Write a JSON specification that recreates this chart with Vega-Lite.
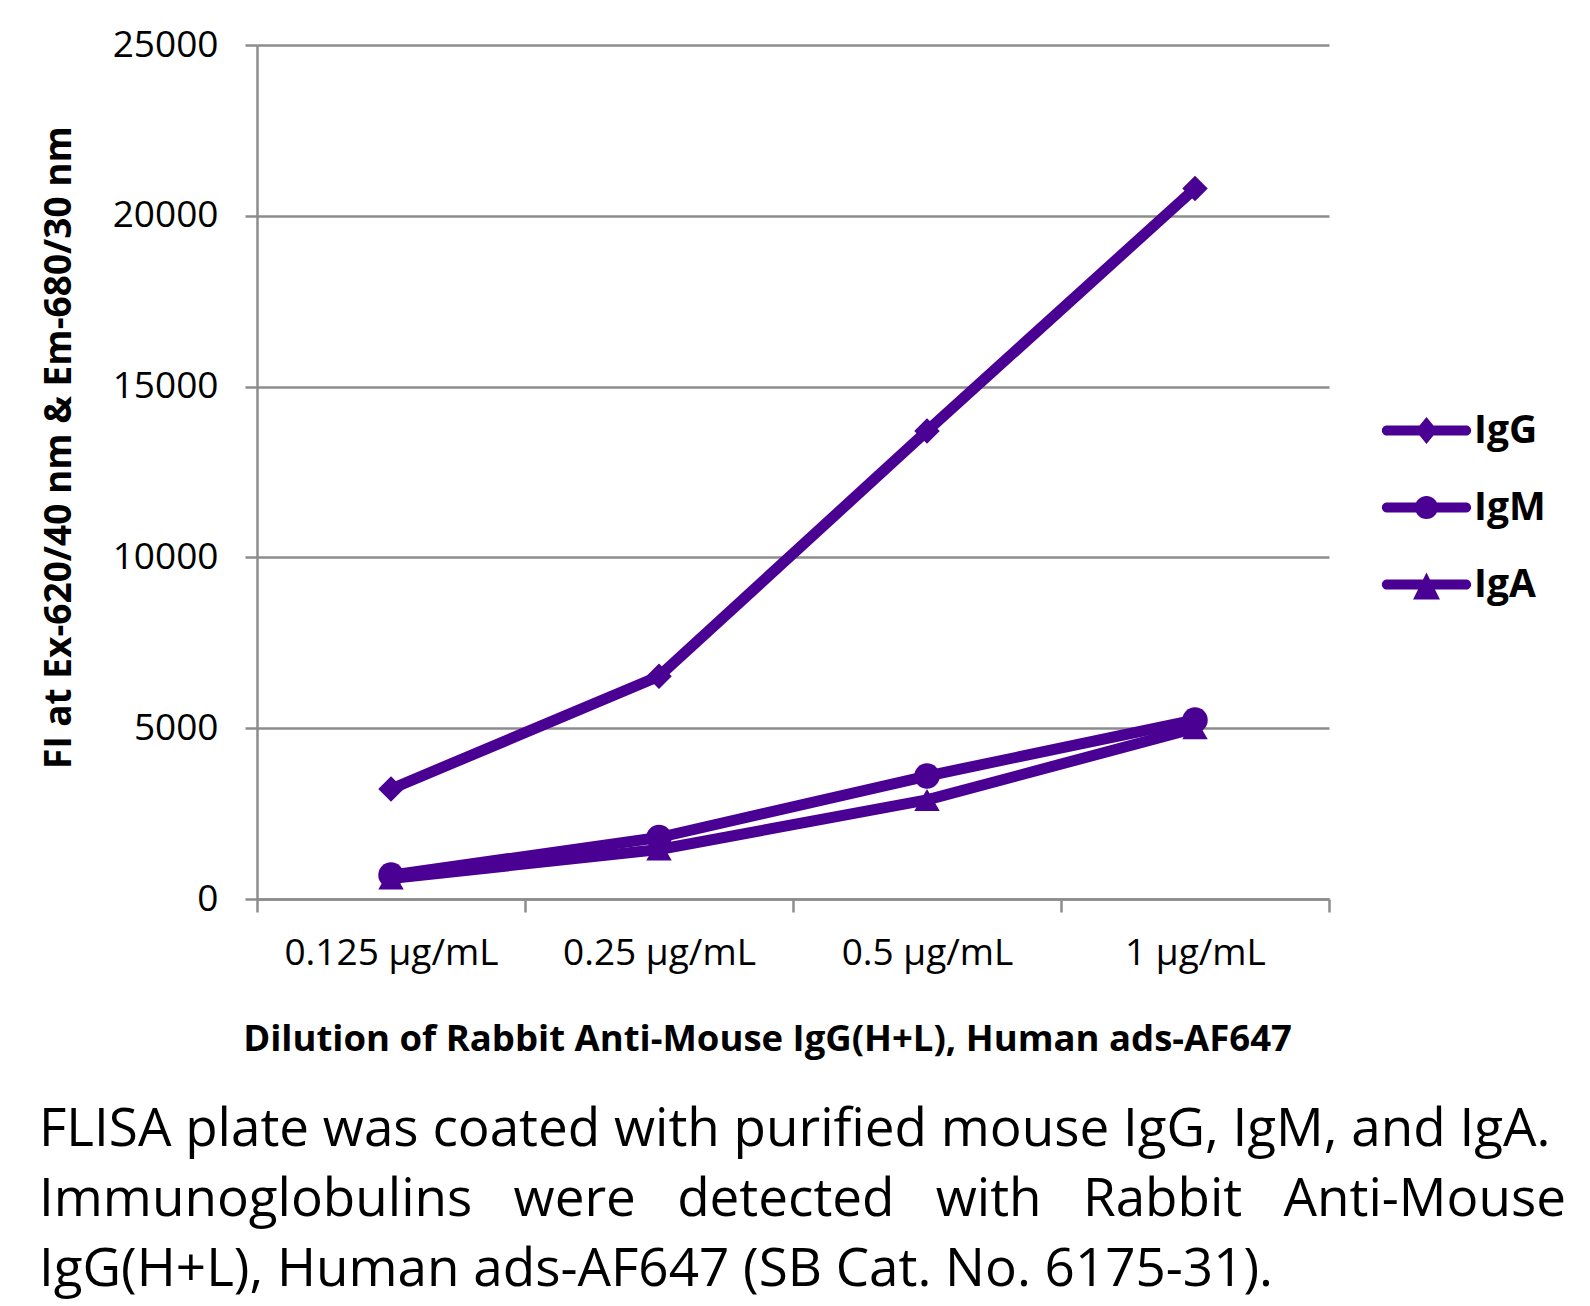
{
  "$schema": "https://vega.github.io/schema/vega-lite/v6.json",
  "autosize": {"type": "none"},
  "width": 1072,
  "height": 854,
  "padding": {"left": 257, "top": 45, "right": 261, "bottom": 407},
  "background": "white",
  "config": {"font": "Open Sans", "view": {"stroke": null}},
  "title": {
    "text": ["FLISA plate was coated with purified mouse IgG, IgM, and IgA.", "Immunoglobulins\u00a0\u00a0 were\u00a0\u00a0 detected\u00a0\u00a0 with\u00a0\u00a0 Rabbit\u00a0\u00a0 Anti-Mouse", "IgG(H+L), Human ads-AF647 (SB Cat. No. 6175-31)."],
    "orient": "bottom",
    "anchor": "start",
    "frame": "group",
    "dx": -218,
    "offset": 46,
    "fontSize": 53,
    "fontWeight": "normal",
    "font": "Open Sans",
    "color": "black",
    "lineHeight": 70,
    "baseline": "top"
  },
  "data": {
    "values": [
      {"conc": "0.125 µg/mL", "series": "IgG", "value": 3220},
      {"conc": "0.25 µg/mL", "series": "IgG", "value": 6520},
      {"conc": "0.5 µg/mL", "series": "IgG", "value": 13700},
      {"conc": "1 µg/mL", "series": "IgG", "value": 20800},
      {"conc": "0.125 µg/mL", "series": "IgM", "value": 700},
      {"conc": "0.25 µg/mL", "series": "IgM", "value": 1800},
      {"conc": "0.5 µg/mL", "series": "IgM", "value": 3600},
      {"conc": "1 µg/mL", "series": "IgM", "value": 5240},
      {"conc": "0.125 µg/mL", "series": "IgA", "value": 600},
      {"conc": "0.25 µg/mL", "series": "IgA", "value": 1450},
      {"conc": "0.5 µg/mL", "series": "IgA", "value": 2900},
      {"conc": "1 µg/mL", "series": "IgA", "value": 5000}
    ]
  },
  "encoding": {
    "x": {
      "field": "conc",
      "type": "ordinal",
      "sort": ["0.125 µg/mL", "0.25 µg/mL", "0.5 µg/mL", "1 µg/mL"],
      "scale": {"paddingInner": 0, "paddingOuter": 0},
      "axis": {
        "title": "Dilution of Rabbit Anti-Mouse IgG(H+L), Human ads-AF647",
        "titleFont": "Open Sans",
        "titleFontWeight": "bold",
        "titleFontSize": 36.5,
        "titleColor": "black",
        "titleX": 510,
        "titleY": 140,
        "titleBaseline": "middle",
        "titleAlign": "center",
        "titleLimit": 0,
        "labelAngle": 0,
        "labelFontSize": 37,
        "labelLimit": 0,
        "labelColor": "black",
        "labelBaseline": "middle",
        "labelPadding": 41,
        "tickBand": "extent",
        "tickSize": 13,
        "tickWidth": 2.5,
        "tickColor": "#8c8c8c",
        "domainColor": "#8c8c8c",
        "domainWidth": 2.5,
        "grid": false
      }
    },
    "y": {
      "field": "value",
      "type": "quantitative",
      "scale": {"domain": [0, 25000], "nice": false},
      "axis": {
        "title": "FI at Ex-620/40 nm & Em-680/30 nm",
        "titleFont": "Open Sans",
        "titleFontWeight": "bold",
        "titleFontSize": 37,
        "titleColor": "black",
        "titleAngle": -90,
        "titleX": -198,
        "titleY": 402,
        "titleAlign": "center",
        "titleBaseline": "middle",
        "titleLimit": 0,
        "values": [0, 5000, 10000, 15000, 20000, 25000],
        "format": "d",
        "labelFontSize": 37,
        "labelColor": "black",
        "labelPadding": 27,
        "tickSize": 12,
        "tickWidth": 2.5,
        "tickColor": "#8c8c8c",
        "domainColor": "#8c8c8c",
        "domainWidth": 2.5,
        "grid": true,
        "gridColor": "#8c8c8c",
        "gridWidth": 2.5
      }
    }
  },
  "layer": [
    {
      "mark": {"type": "line", "strokeWidth": 11, "strokeCap": "round", "strokeJoin": "round", "color": "#4a0093"},
      "encoding": {"detail": {"field": "series", "type": "nominal"}}
    },
    {
      "mark": {"type": "point", "filled": true, "size": 650, "opacity": 1, "color": "#4a0093"},
      "encoding": {
        "shape": {
          "field": "series",
          "type": "nominal",
          "scale": {"domain": ["IgG", "IgM", "IgA"], "range": ["diamond", "circle", "triangle-up"]},
          "legend": null
        }
      }
    },
    {
      "mark": {"type": "point", "filled": true, "size": 576, "opacity": 0, "color": "#4a0093"},
      "encoding": {
        "shape": {
          "field": "series",
          "type": "nominal",
          "scale": {
            "domain": ["IgG", "IgM", "IgA"],
            "range": [
              "M-3.3,-0.42 L3.3,-0.42 A0.42,0.42 0 0 1 3.3,0.42 L-3.3,0.42 A0.42,0.42 0 0 1 -3.3,-0.42 Z M-0.92,0 L0,-1.12 L0.92,0 L0,1.12 Z",
              "M-3.3,-0.42 L3.3,-0.42 A0.42,0.42 0 0 1 3.3,0.42 L-3.3,0.42 A0.42,0.42 0 0 1 -3.3,-0.42 Z M-0.96,0 A0.96,0.96 0 1 1 0.96,0 A0.96,0.96 0 1 1 -0.96,0 Z",
              "M-3.3,-0.42 L3.3,-0.42 A0.42,0.42 0 0 1 3.3,0.42 L-3.3,0.42 A0.42,0.42 0 0 1 -3.3,-0.42 Z M0,-1 L1.12,1.25 L-1.12,1.25 Z"
            ]
          },
          "legend": {
            "title": null,
            "orient": "none",
            "legendX": 1150,
            "legendY": 366,
            "labelFont": "Open Sans",
            "labelFontWeight": "bold",
            "labelFontSize": 39,
            "labelColor": "black",
            "labelOffset": 28,
            "rowPadding": 37,
            "symbolSize": 576,
            "symbolOpacity": 1,
            "symbolFillColor": "#4a0093",
            "symbolStrokeWidth": 0
          }
        }
      }
    }
  ],
  "resolve": {"scale": {"shape": "independent"}}
}
